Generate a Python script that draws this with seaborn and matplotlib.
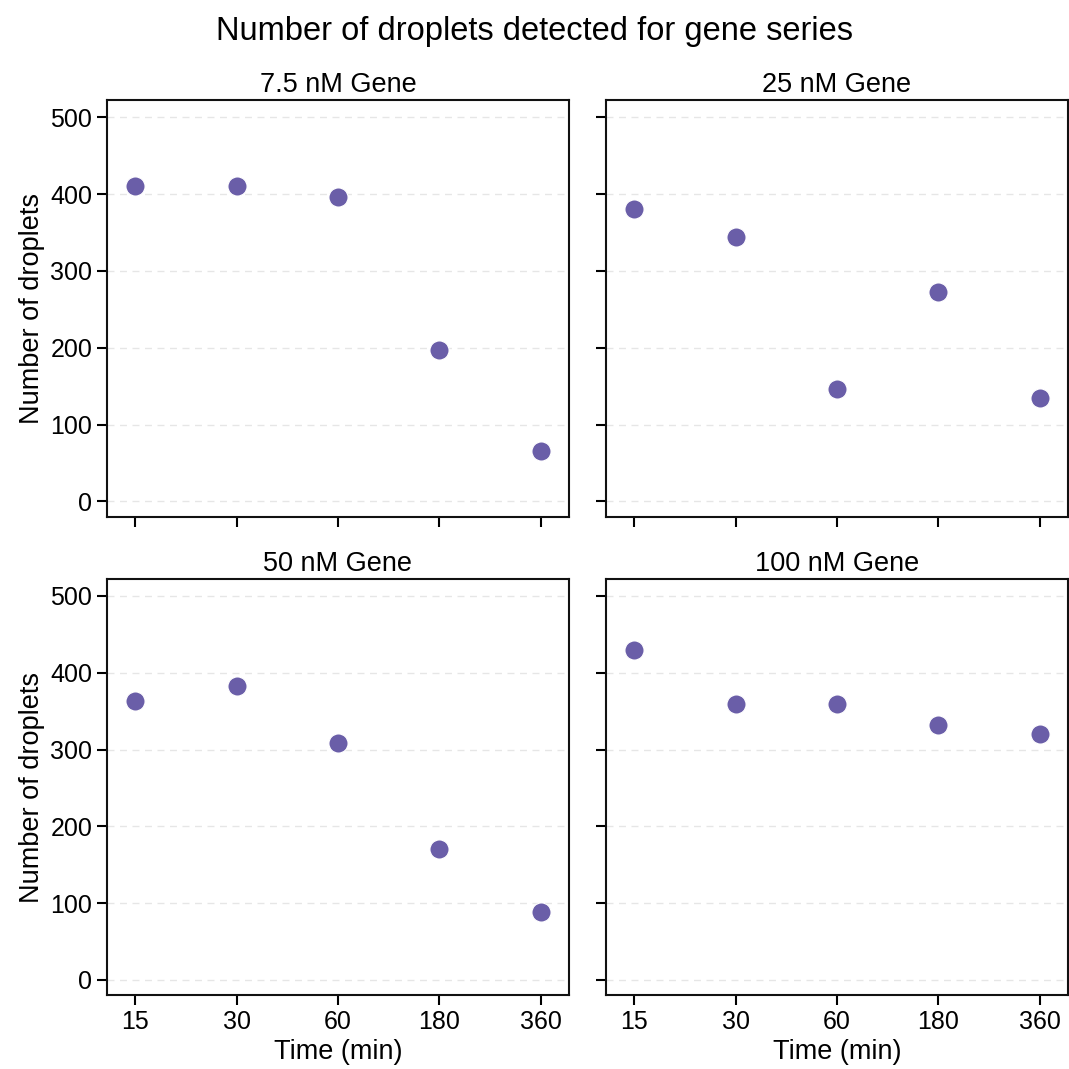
import numpy as np
import pandas as pd
import matplotlib
matplotlib.use("Agg")
import matplotlib.pyplot as plt
import seaborn as sns

# Incubation times (min) and droplet counts per gene concentration
times = ["15", "30", "60", "180", "360"]
conditions = ["7.5 nM Gene", "25 nM Gene", "50 nM Gene", "100 nM Gene"]
counts_7_5 = [411, 410, 396, 197, 65]
counts_25 = [381, 344, 146, 272, 134]
counts_50 = [363, 383, 309, 171, 88]
counts_100 = [430, 359, 359, 332, 320]

df = pd.DataFrame({
    "Time (min)": times * 4,
    "Condition": np.repeat(conditions, len(times)),
    "Number of droplets": counts_7_5 + counts_25 + counts_50 + counts_100,
})

sns.set_theme(style="ticks")
plt.rcParams["font.family"] = ["Liberation Sans", "DejaVu Sans"]
plt.rcParams["text.color"] = "black"
plt.rcParams["axes.labelcolor"] = "black"
plt.rcParams["xtick.color"] = "black"
plt.rcParams["ytick.color"] = "black"
plt.rcParams["axes.edgecolor"] = "#111111"
plt.rcParams["axes.linewidth"] = 1.5
plt.rcParams["xtick.major.width"] = 1.5
plt.rcParams["ytick.major.width"] = 1.5
plt.rcParams["xtick.major.size"] = 7
plt.rcParams["ytick.major.size"] = 7

g = sns.FacetGrid(df, col="Condition", col_wrap=2, col_order=conditions,
                  height=4.9, aspect=1.0, sharex=True, sharey=True,
                  despine=False)
g.map_dataframe(sns.scatterplot, x="Time (min)", y="Number of droplets",
                color="#6a5ea8", s=190, edgecolor="white", linewidth=0.8,
                zorder=3)
g.set_titles("{col_name}", size=19.5)
g.set_axis_labels("Time (min)", "Number of droplets", fontsize=19.5)

for ax in g.axes.flat:
    ax.set_ylim(-20, 522)
    ax.set_xlim(-0.28, 4.28)
    ax.set_yticks([0, 100, 200, 300, 400, 500])
    ax.yaxis.grid(True, linestyle=(0, (5, 4)), color="#e6e6e6", linewidth=1.0)
    ax.set_axisbelow(True)
    ax.tick_params(labelsize=18)
    ax.title.set_color("black")
    for sp in ax.spines.values():
        sp.set_visible(True)

g.figure.suptitle("Number of droplets detected for gene series", fontsize=23.5,
                  y=0.985)
g.figure.set_size_inches(10.69, 10.69)
g.figure.subplots_adjust(left=0.1, right=0.999, top=0.906, bottom=0.069,
                         wspace=0.08, hspace=0.15)
g.figure.savefig("out.png", dpi=100, facecolor="white")
